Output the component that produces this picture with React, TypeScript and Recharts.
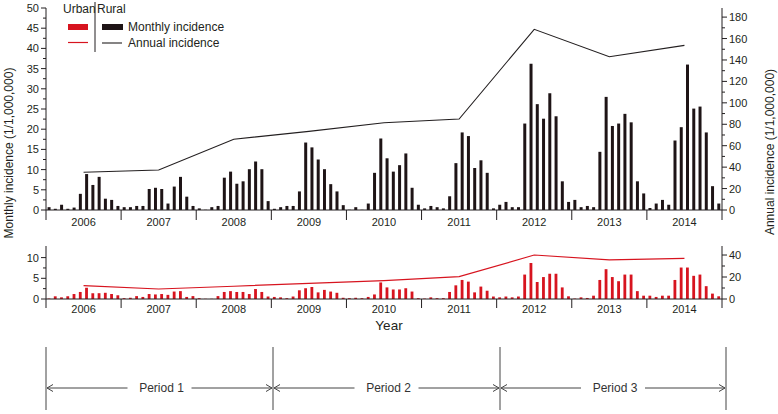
import React from 'react';
import { ComposedChart, Bar, Line, XAxis, YAxis } from 'recharts';

const years = ['2006', '2007', '2008', '2009', '2010', '2011', '2012', '2013', '2014'];

// Rural monthly incidence (1/1,000,000), Jan 2006 .. Dec 2014
const ruralMonthly = [
  0.7, 0.3, 1.3, 0.3, 0.6, 4.0, 8.9, 6.2, 8.2, 2.8, 2.5, 1.0,
  0.7, 0.7, 1.0, 1.0, 5.2, 5.5, 5.2, 1.6, 5.8, 8.2, 3.3, 1.0,
  0.4, 0.05, 0.7, 1.0, 8.0, 9.5, 6.5, 7.1, 10.1, 12.0, 10.1, 2.2,
  0.3, 0.7, 1.0, 1.0, 4.6, 16.7, 15.5, 12.5, 10.1, 6.4, 4.6, 1.2,
  0.05, 0.7, 0.05, 1.6, 9.2, 17.7, 12.8, 9.5, 11.1, 14.0, 5.5, 1.3,
  0.4, 1.0, 0.7, 0.4, 3.4, 11.6, 19.2, 18.3, 10.4, 12.3, 9.2, 0.4,
  1.3, 2.0, 0.7, 0.7, 21.4, 36.2, 26.2, 22.6, 28.9, 23.2, 7.1, 2.0,
  2.5, 0.7, 1.0, 0.7, 14.4, 28.0, 20.8, 21.4, 23.8, 21.7, 7.1, 4.1,
  0.5, 1.6, 2.5, 1.3, 17.2, 20.5, 36.0, 25.1, 25.6, 19.2, 5.9, 1.6,
];

// Urban monthly incidence (1/1,000,000)
const urbanMonthly = [
  0.1, 0.65, 0.4, 0.65, 1.2, 1.7, 2.7, 1.4, 1.4, 1.5, 1.2, 0.9,
  0.2, 0.3, 0.7, 0.5, 1.2, 1.1, 1.2, 1.0, 1.8, 1.9, 0.5, 0.7,
  0.2, 0.05, 0.05, 0.7, 1.7, 1.9, 1.7, 1.7, 1.2, 2.4, 1.7, 0.6,
  0.5, 0.4, 0.2, 0.6, 2.1, 2.6, 2.9, 1.6, 2.2, 1.8, 1.5, 0.3,
  0.2, 0.3, 0.2, 0.5, 1.1, 4.0, 2.8, 2.3, 2.3, 2.6, 1.8, 0.2,
  0.1, 0.4, 0.2, 0.2, 1.7, 3.3, 4.6, 4.2, 1.6, 3.0, 2.0, 0.6,
  0.4, 0.6, 0.4, 0.6, 5.9, 8.7, 4.1, 5.3, 6.1, 6.1, 2.8, 0.65,
  0.1, 0.4, 0.25, 0.8, 4.6, 7.2, 5.3, 4.3, 5.9, 5.9, 1.9, 0.8,
  0.8, 0.5, 0.8, 0.8, 4.6, 7.6, 7.6, 5.6, 5.9, 3.1, 1.3, 0.65,
];

const ruralAnnual = [35.2, 37.3, 66, 73.4, 81.4, 84.9, 168.6, 143, 153.6];
const urbanAnnual = [12.1, 9.1, 11.6, 14.2, 16.7, 20.3, 40, 35.5, 37];

const periods = ['Period 1', 'Period 2', 'Period 3'];

const monthlyData = ruralMonthly.map((v, i) => ({ x: i + 0.5, rural: v, urban: urbanMonthly[i] }));
const ruralAnnualData = years.map((y, i) => ({ x: i * 12 + 6, v: ruralAnnual[i] }));
const urbanAnnualData = years.map((y, i) => ({ x: i * 12 + 6, v: urbanAnnual[i] }));

const xTicks = Array.from({ length: 19 }, (_, i) => i * 6);

const FONT = '"Liberation Sans", Arial, sans-serif';
const INK = '#231f20';
const RED = '#d7141f';
const BLACK = '#1e1416';

const makeXTick = (len: number, dy: number) => (props: any) => {
  const { x, y, payload } = props;
  const v = payload.value;
  if (v % 12 === 0) {
    return <line x1={x} x2={x} y1={y} y2={y + len} stroke={INK} strokeWidth={1} />;
  }
  const yi = Math.floor(v / 12);
  return (
    <text x={x} y={y + dy} textAnchor="middle" dominantBaseline="central" fontSize={11} fontFamily={FONT} fill={INK}>
      {years[yi]}
    </text>
  );
};

const makeYTick = (side: 'left' | 'right', majorStep: number) => (props: any) => {
  const { x, y, payload } = props;
  const v = payload.value;
  const major = Math.abs(v / majorStep - Math.round(v / majorStep)) < 1e-6;
  const s = side === 'left' ? -1 : 1;
  const len = major ? 5 : 3;
  return (
    <g>
      <line x1={x} x2={x + s * len} y1={y} y2={y} stroke={INK} strokeWidth={1} />
      {major && (
        <text
          x={x + s * 7}
          y={y}
          textAnchor={side === 'left' ? 'end' : 'start'}
          dominantBaseline="central"
          fontSize={11}
          fontFamily={FONT}
          fill={INK}
        >
          {v}
        </text>
      )}
    </g>
  );
};

const Arrow = ({ x1, x2, y }: { x1: number; x2: number; y: number }) => {
  const dir = x2 > x1 ? 1 : -1;
  return (
    <g stroke="#444" strokeWidth={1} fill="none">
      <line x1={x1} x2={x2} y1={y} y2={y} />
      <polyline points={`${x2 - dir * 6},${y - 3.5} ${x2},${y} ${x2 - dir * 6},${y + 3.5}`} />
    </g>
  );
};

export default function App() {
  const bounds = [46, 273, 500, 726];
  const arrowY = 388;
  return (
    <div style={{ position: 'absolute', left: 0, top: 0, width: 778, height: 414, background: '#fff', fontFamily: FONT }}>
      <div style={{ position: 'absolute', left: 0, top: 0 }}>
        <ComposedChart width={778} height={235} data={monthlyData} margin={{ top: 8, right: 26, bottom: 5, left: 16 }}>
          <XAxis
            dataKey="x"
            type="number"
            domain={[0, 108]}
            ticks={xTicks}
            interval={0}
            tickSize={0}
            tickMargin={0}
            tickLine={false}
            height={20}
            axisLine={{ stroke: INK }}
            tick={makeXTick(10, 12)}
            allowDataOverflow
          />
          <YAxis
            yAxisId="l"
            orientation="left"
            type="number"
            domain={[0, 50]}
            ticks={Array.from({ length: 21 }, (_, i) => i * 2.5)}
            interval={0}
            width={30}
            tickSize={0}
            tickMargin={0}
            tickLine={false}
            axisLine={{ stroke: INK }}
            tick={makeYTick('left', 5)}
            allowDataOverflow
          />
          <YAxis
            yAxisId="r"
            orientation="right"
            type="number"
            domain={[0, 188.5]}
            ticks={Array.from({ length: 19 }, (_, i) => i * 10)}
            interval={0}
            width={30}
            tickSize={0}
            tickMargin={0}
            tickLine={false}
            axisLine={{ stroke: INK }}
            tick={makeYTick('right', 20)}
            allowDataOverflow
          />
          <Bar yAxisId="l" dataKey="rural" fill={BLACK} barSize={3} isAnimationActive={false} />
          <Line
            yAxisId="r"
            data={ruralAnnualData}
            dataKey="v"
            type="linear"
            stroke={INK}
            strokeWidth={1.1}
            dot={false}
            activeDot={false}
            isAnimationActive={false}
          />
        </ComposedChart>
      </div>
      <div style={{ position: 'absolute', left: 0, top: 236 }}>
        <ComposedChart width={778} height={88} data={monthlyData} margin={{ top: 10, right: 26, bottom: 5, left: 16 }}>
          <XAxis
            dataKey="x"
            type="number"
            domain={[0, 108]}
            ticks={xTicks}
            interval={0}
            tickSize={0}
            tickMargin={0}
            tickLine={false}
            height={20}
            axisLine={{ stroke: INK }}
            tick={makeXTick(9, 10)}
            allowDataOverflow
          />
          <YAxis
            yAxisId="l"
            orientation="left"
            type="number"
            domain={[0, 12.8]}
            ticks={[0, 2.5, 5, 7.5, 10]}
            interval={0}
            width={30}
            tickSize={0}
            tickMargin={0}
            tickLine={false}
            axisLine={{ stroke: INK }}
            tick={makeYTick('left', 5)}
            allowDataOverflow
          />
          <YAxis
            yAxisId="r"
            orientation="right"
            type="number"
            domain={[0, 48.2]}
            ticks={[0, 10, 20, 30, 40]}
            interval={0}
            width={30}
            tickSize={0}
            tickMargin={0}
            tickLine={false}
            axisLine={{ stroke: INK }}
            tick={makeYTick('right', 20)}
            allowDataOverflow
          />
          <Bar yAxisId="l" dataKey="urban" fill={RED} barSize={3.4} isAnimationActive={false} />
          <Line
            yAxisId="r"
            data={urbanAnnualData}
            dataKey="v"
            type="linear"
            stroke={RED}
            strokeWidth={1.2}
            dot={false}
            activeDot={false}
            isAnimationActive={false}
          />
        </ComposedChart>
      </div>
      <svg
        width={778}
        height={414}
        style={{ position: 'absolute', left: 0, top: 0, pointerEvents: 'none' }}
        fontFamily={FONT}
      >
        {/* Legend */}
        <text x={63} y={9} fontSize={12} fill={INK} dominantBaseline="central">Urban</text>
        <text x={97} y={9} fontSize={12} fill={INK} dominantBaseline="central">Rural</text>
        <line x1={95} x2={95} y1={2} y2={52} stroke={INK} strokeWidth={1} />
        <rect x={68} y={24} width={20} height={6} fill={RED} />
        <rect x={102} y={24} width={21} height={6} fill={BLACK} />
        <text x={128} y={27} fontSize={12} fill={INK} dominantBaseline="central">Monthly incidence</text>
        <line x1={68} x2={88} y1={42.5} y2={42.5} stroke={RED} strokeWidth={1.2} />
        <line x1={102} x2={122} y1={43} y2={43} stroke={INK} strokeWidth={1.1} />
        <text x={128} y={43} fontSize={12} fill={INK} dominantBaseline="central">Annual incidence</text>

        {/* Axis titles */}
        <text
          x={9}
          y={153}
          fontSize={12}
          fill={INK}
          textAnchor="middle"
          dominantBaseline="central"
          transform="rotate(-90 9 153)"
        >
          Monthly incidence (1/1,000,000)
        </text>
        <text
          x={770}
          y={152}
          fontSize={12}
          fill={INK}
          textAnchor="middle"
          dominantBaseline="central"
          transform="rotate(-90 770 152)"
        >
          Annual incidence (1/1,000,000)
        </text>
        <text x={389} y={325} fontSize={13.5} fill={INK} textAnchor="middle" dominantBaseline="central">
          Year
        </text>

        {/* Periods */}
        {bounds.map((b, i) => (
          <line key={'b' + i} x1={b} x2={b} y1={347} y2={410} stroke="#444" strokeWidth={1} />
        ))}
        {periods.map((p, i) => {
          const a = bounds[i];
          const b = bounds[i + 1];
          const c = (a + b) / 2 + 2;
          return (
            <g key={p}>
              <Arrow x1={c - 34} x2={a + 1} y={arrowY} />
              <Arrow x1={c + 30} x2={b - 1} y={arrowY} />
              <text x={c} y={arrowY} fontSize={12} fill="#333" textAnchor="middle" dominantBaseline="central">
                {p}
              </text>
            </g>
          );
        })}
      </svg>
    </div>
  );
}
